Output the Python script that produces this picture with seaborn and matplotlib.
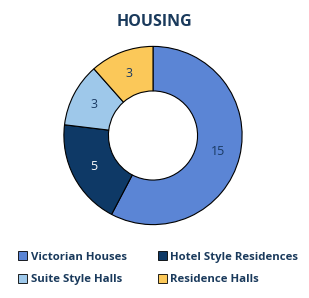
import matplotlib
matplotlib.use("Agg")
import matplotlib.pyplot as plt
import seaborn as sns
import numpy as np
from matplotlib.patches import Patch

categories = ["Victorian Houses", "Hotel Style Residences", "Suite Style Halls", "Residence Halls"]
values = [15, 5, 3, 3]
colors = ["#5b85d5", "#0e3966", "#9ec8ea", "#fbc859"]
label_colors = ["#1a3a63", "white", "#1a3a63", "#1a3a63"]

sns.set_theme(style="white")
plt.rcParams["font.family"] = ["Open Sans", "DejaVu Sans"]

fig = plt.figure(figsize=(3.09, 2.98), dpi=100)
ax = fig.add_axes([(153 - 90) / 309, (298 - 135.5 - 90) / 298, 180 / 309, 180 / 298])
wedges, texts = ax.pie(values, colors=colors, startangle=90, counterclock=False,
                       wedgeprops=dict(width=0.5, edgecolor="black", linewidth=0.8))
for w, v, lc in zip(wedges, values, label_colors):
    ang = np.deg2rad((w.theta1 + w.theta2) / 2)
    ax.text(0.75 * np.cos(ang), 0.75 * np.sin(ang), str(v), ha="center", va="center",
            color=lc, fontsize=9)
ax.set_xlim(-1.01, 1.01)
ax.set_ylim(-1.01, 1.01)
ax.set_aspect("equal")
ax.axis("off")

fig.text(0.5, 1 - 22 / 298, "HOUSING", ha="center", va="center", fontsize=11.5,
         fontweight="bold", color="#1a3a5c")

handles = [Patch(facecolor=c, edgecolor="black", linewidth=0.6) for c in colors]
order = [0, 2, 1, 3]
leg = fig.legend([handles[i] for i in order], [categories[i] for i in order], ncol=2,
                 loc="upper left", bbox_to_anchor=(0.025, 1 - 241 / 298), frameon=False,
                 prop=dict(size=8.2, weight="bold"), handlelength=0.8, handleheight=0.8,
                 handletextpad=0.3, columnspacing=2.75, labelspacing=1.0)
for t in leg.get_texts():
    t.set_color("#1a3a5c")

fig.savefig("out.png", dpi=100, facecolor="white")
